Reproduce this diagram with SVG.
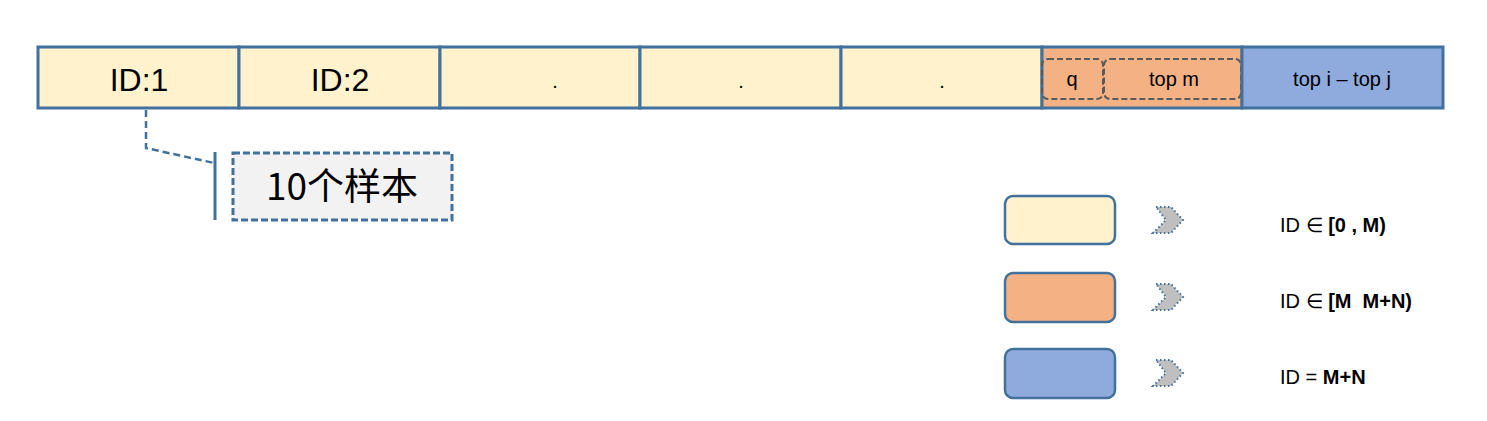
<svg xmlns="http://www.w3.org/2000/svg" width="1487" height="421" viewBox="0 0 1487 421">
<style>
.cell{stroke:#41719C;stroke-width:3}
.y{fill:#FFF2CC}.o{fill:#F4B183}.b{fill:#8FAADC}
.t{font-family:"Liberation Sans",Arial,sans-serif;fill:#000;text-anchor:middle}
.sub{fill:none;stroke:#595959;stroke-width:2;stroke-dasharray:6,3}
.leg{stroke:#41719C;stroke-width:2.5}
.chev{fill:#BFBFBF;stroke:#41719C;stroke-width:2;stroke-dasharray:1.5,2.5}
.lt{font-family:"Liberation Sans",Arial,sans-serif;font-size:20px;fill:#000}
</style>
<rect width="1487" height="421" fill="#fff"/>
<g id="cell1"><rect class="cell y" x="38" y="47" width="201" height="61"/><text class="t" x="139" y="91" font-size="32">ID:1</text></g>
<g id="cell2"><rect class="cell y" x="239" y="47" width="201" height="61"/><text class="t" x="340" y="91" font-size="32">ID:2</text></g>
<g id="cell3"><rect class="cell y" x="440" y="47" width="200" height="61"/><text class="t" x="555" y="88" font-size="20">.</text></g>
<g id="cell4"><rect class="cell y" x="640" y="47" width="201" height="61"/><text class="t" x="741" y="88" font-size="20">.</text></g>
<g id="cell5"><rect class="cell y" x="841" y="47" width="201" height="61"/><text class="t" x="942" y="88" font-size="20">.</text></g>
<g id="cell6"><rect class="cell o" x="1042" y="47" width="200" height="61"/>
<rect class="sub" x="1042" y="59" width="61" height="40" rx="6"/><text class="t" x="1072" y="86" font-size="20">q</text>
<rect class="sub" x="1104" y="59" width="137" height="40" rx="6"/><text class="t" x="1174" y="86" font-size="20">top m</text></g>
<g id="cell7"><rect class="cell b" x="1242" y="47" width="201" height="61"/><text class="t" x="1342" y="86" font-size="20">top i – top j</text></g>
<g id="connectors">
<polyline points="146,110 146,148 214,163" fill="none" stroke="#41719C" stroke-width="2.5" stroke-dasharray="7,4"/>
<line x1="215" y1="152" x2="215" y2="220" stroke="#41719C" stroke-width="3"/>
</g>
<g id="callout"><rect x="233" y="153" width="219" height="67" fill="#F2F2F2" stroke="#41719C" stroke-width="3" stroke-dasharray="7,3"/>
<text x="342" y="200" font-family="'Noto Sans CJK SC',sans-serif" font-size="37" text-anchor="middle">10个样本</text></g>
<g id="legend1"><rect class="leg y" x="1005" y="196" width="110" height="48" rx="8"/>
<polygon class="chev" points="1156,207 1171,207 1183,220 1171,233 1153,233 1166,220"/>
<text class="lt" x="1280" y="232">ID ∈ <tspan font-weight="bold">[0 , M)</tspan></text></g>
<g id="legend2"><rect class="leg o" x="1005" y="273" width="110" height="49" rx="8"/>
<polygon class="chev" points="1156,284 1171,284 1183,297 1171,310 1153,310 1166,297"/>
<text class="lt" x="1280" y="308" xml:space="preserve">ID ∈ <tspan font-weight="bold">[M  M+N)</tspan></text></g>
<g id="legend3"><rect class="leg b" x="1005" y="349" width="110" height="49" rx="8"/>
<polygon class="chev" points="1156,360 1171,360 1183,373 1171,386 1153,386 1166,373"/>
<text class="lt" x="1280" y="384">ID = <tspan font-weight="bold">M+N</tspan></text></g>
</svg>
